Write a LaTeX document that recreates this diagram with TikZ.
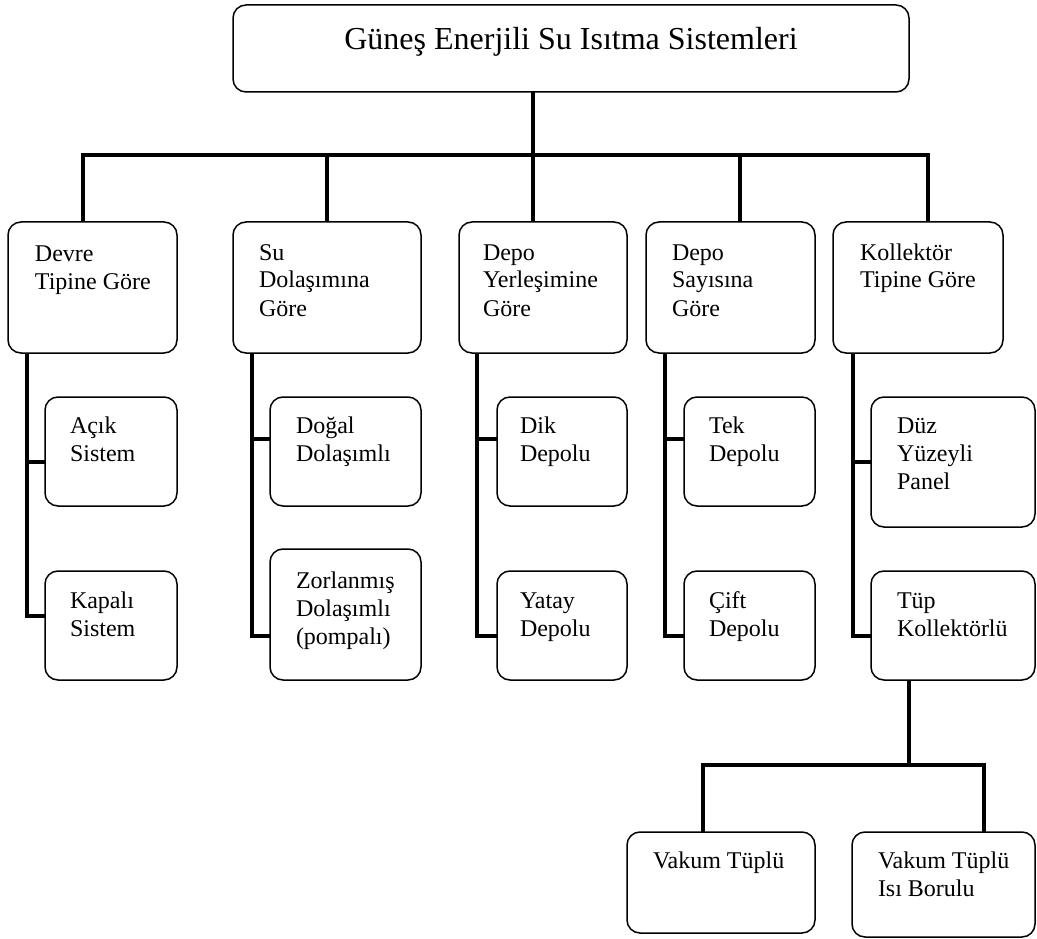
\documentclass[tikz,border=0pt]{standalone}
\usepackage{fontspec}
\setmainfont{Liberation Serif}
\usetikzlibrary{calc}
% width, height, first-baseline, left pad, text
\newcommand\bxtext[5]{\parbox[c][#2pt][t]{#1pt}{\raggedright\leftskip=#4pt\relax\rule{0pt}{#3pt}#5}}
\tikzset{
  box/.style={draw, line width=1.5pt, rounded corners=13pt, inner sep=0pt, outer sep=0pt,
              anchor=north west, font=\fontsize{24}{28}\selectfont},
  conn/.style={draw, line width=4.5pt, line join=miter}
}
\begin{document}
\begin{tikzpicture}[x=1pt,y=-1pt]
\fill[white] (0,0) rectangle (1037,939);
\useasboundingbox (0,0) rectangle (1037,939);

% title
\node[box] (title) at (233,5) {\parbox[c][87pt][t]{676pt}{\centering\fontsize{32}{38}\selectfont\rule{0pt}{45pt}Güneş Enerjili Su Isıtma Sistemleri}};

% level 1
\node[box] (b1) at (8,222)   {\bxtext{169}{131}{39}{27}{Devre\\Tipine Göre}};
\node[box] (b2) at (233,222) {\bxtext{188}{131}{38}{26}{Su\\Dolaşımına\\Göre}};
\node[box] (b3) at (459,222) {\bxtext{168}{131}{38}{24}{Depo\\Yerleşimine\\Göre}};
\node[box] (b4) at (646,222) {\bxtext{169}{131}{38}{26}{Depo\\Sayısına\\Göre}};
\node[box] (b5) at (833,222) {\bxtext{170}{131}{38}{27}{Kollektör\\Tipine Göre}};

% level 2
\node[box] (acik)   at (45,397)  {\bxtext{132}{109}{36}{25}{Açık\\Sistem}};
\node[box] (kapali) at (45,571)  {\bxtext{132}{109}{37}{25}{Kapalı\\Sistem}};
\node[box] (dogal)  at (270,397) {\bxtext{151}{109}{36}{26}{Doğal\\Dolaşımlı}};
\node[box] (zorl)   at (270,549) {\bxtext{151}{131}{39}{26}{Zorlanmış\\Dolaşımlı\\(pompalı)}};
\node[box] (dik)    at (497,397) {\bxtext{130}{109}{36}{23}{Dik\\Depolu}};
\node[box] (yatay)  at (497,571) {\bxtext{130}{109}{37}{23}{Yatay\\Depolu}};
\node[box] (tek)    at (684,397) {\bxtext{131}{109}{36}{25}{Tek\\Depolu}};
\node[box] (cift)   at (684,571) {\bxtext{131}{109}{37}{25}{Çift\\Depolu}};
\node[box] (duz)    at (871,397) {\bxtext{164}{130}{36}{26}{Düz\\Yüzeyli\\Panel}};
\node[box] (tup)    at (871,571) {\bxtext{164}{109}{37}{26}{Tüp\\Kollektörlü}};

% level 3
\node[box] (vak1) at (627,832) {\bxtext{188}{101}{36}{26}{Vakum Tüplü}};
\node[box] (vak2) at (852,832) {\bxtext{183}{105}{36}{26}{Vakum Tüplü\\Isı Borulu}};

% top bus
\coordinate (d1) at ($(b1.north west)+(75,0)$);
\coordinate (d2) at ($(b2.north west)+(94,0)$);
\coordinate (d3) at ($(b3.north west)+(74,0)$);
\coordinate (d4) at ($(b4.north west)+(94,0)$);
\coordinate (d5) at ($(b5.north west)+(95,0)$);
\coordinate (bus) at ($(d3)+(0,-67)$);
\draw[conn] (d1) |- (bus) -| (d5);
\draw[conn] (title.south -| d3) -- (d3);
\draw[conn] (d2) -- (d2 |- bus);
\draw[conn] (d4) -- (d4 |- bus);

% column 1
\coordinate (v1) at ($(b1.south west)+(19,0)$);
\coordinate (a1) at ($(acik.north west)+(0,65)$);
\coordinate (a2) at ($(kapali.north west)+(0,45)$);
\draw[conn] (v1) |- (a2);
\draw[conn] (a1) -- (a1 -| v1);

% column 2
\coordinate (v2) at ($(b2.south west)+(19,0)$);
\coordinate (c1) at ($(dogal.north west)+(0,42)$);
\coordinate (c2) at ($(zorl.north west)+(0,87)$);
\draw[conn] (v2) |- (c2);
\draw[conn] (c1) -- (c1 -| v2);

% column 3
\coordinate (v3) at ($(b3.south west)+(18,0)$);
\coordinate (e1) at ($(dik.north west)+(0,42)$);
\coordinate (e2) at ($(yatay.north west)+(0,65)$);
\draw[conn] (v3) |- (e2);
\draw[conn] (e1) -- (e1 -| v3);

% column 4
\coordinate (v4) at ($(b4.south west)+(19,0)$);
\coordinate (f1) at ($(tek.north west)+(0,42)$);
\coordinate (f2) at ($(cift.north west)+(0,65)$);
\draw[conn] (v4) |- (f2);
\draw[conn] (f1) -- (f1 -| v4);

% column 5
\coordinate (v5) at ($(b5.south west)+(20,0)$);
\coordinate (g1) at ($(duz.north west)+(0,65)$);
\coordinate (g2) at ($(tup.north west)+(0,65)$);
\draw[conn] (v5) |- (g2);
\draw[conn] (g1) -- (g1 -| v5);

% bottom bus
\coordinate (t) at ($(tup.south west)+(38,0)$);
\coordinate (bus2) at ($(t)+(0,85)$);
\coordinate (h1) at ($(vak1.north west)+(76,0)$);
\coordinate (h2) at ($(vak2.north west)+(132,0)$);
\draw[conn] (t) -- (bus2);
\draw[conn] (h1) |- (bus2) -| (h2);
\end{tikzpicture}
\end{document}
